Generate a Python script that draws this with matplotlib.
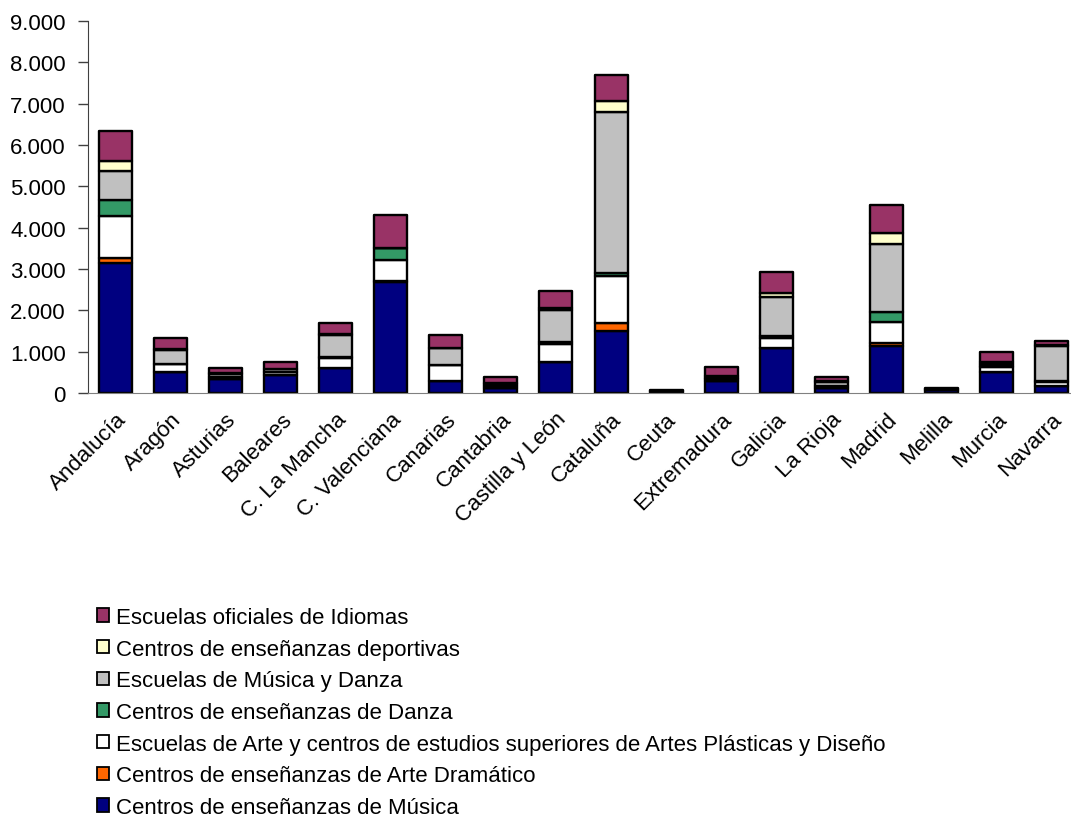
import matplotlib
matplotlib.use('Agg')
import matplotlib.pyplot as plt
import matplotlib.ticker as ticker
import numpy as np

plt.rcParams['font.family'] = ['Liberation Sans', 'DejaVu Sans']

regions = ['Andalucía', 'Aragón', 'Asturias', 'Baleares', 'C. La Mancha', 'C. Valenciana',
           'Canarias', 'Cantabria', 'Castilla y León', 'Cataluña', 'Ceuta', 'Extremadura',
           'Galicia', 'La Rioja', 'Madrid', 'Melilla', 'Murcia', 'Navarra']

# stacking order, bottom to top
musica      = [3150, 500, 350, 430, 600, 2680, 290, 120, 760, 1500, 40, 280, 1100, 110, 1130, 70, 510, 180]
dramatico   = [120, 0, 0, 0, 0, 30, 0, 0, 0, 200, 0, 0, 0, 0, 80, 0, 10, 0]
arte        = [1020, 190, 40, 90, 250, 510, 380, 50, 420, 1130, 15, 60, 230, 50, 500, 20, 100, 90]
danza       = [380, 10, 0, 0, 30, 290, 10, 10, 50, 80, 0, 0, 40, 20, 240, 10, 30, 20]
musica_danza = [710, 330, 70, 60, 530, 0, 400, 40, 790, 3900, 0, 30, 960, 80, 1650, 0, 60, 840]
deportivas  = [240, 40, 20, 10, 10, 0, 10, 30, 40, 250, 5, 30, 80, 20, 280, 0, 50, 30]
idiomas     = [730, 270, 130, 170, 270, 800, 320, 130, 400, 640, 10, 240, 510, 100, 670, 20, 230, 100]

series = [
    ('Centros de enseñanzas de Música', musica, '#000080'),
    ('Centros de enseñanzas de Arte Dramático', dramatico, '#FF6600'),
    ('Escuelas de Arte y centros de estudios superiores de Artes Plásticas y Diseño', arte, '#FFFFFF'),
    ('Centros de enseñanzas de Danza', danza, '#339966'),
    ('Escuelas de Música y Danza', musica_danza, '#C0C0C0'),
    ('Centros de enseñanzas deportivas', deportivas, '#FFFFCC'),
    ('Escuelas oficiales de Idiomas', idiomas, '#993366'),
]

W, H = 1071, 820
fs = 16
fig = plt.figure(figsize=(W / 100, H / 100), dpi=100)
ax = fig.add_axes([88 / W, 1 - 394 / H, (1079 - 88) / W, (394 - 22) / H])

x = np.arange(len(regions))
bottom = np.zeros(len(regions))
handles = []
for name, vals, col in series:
    b = ax.bar(x, vals, 0.6, bottom=bottom, color=col, edgecolor='black', linewidth=1.7,
               joinstyle='round', label=name)
    handles.append(b)
    bottom += np.array(vals)

ax.set_xlim(-0.5, len(regions) - 0.5)
ax.set_ylim(0, 9000)
ax.yaxis.set_major_locator(ticker.MultipleLocator(1000))
ax.yaxis.set_major_formatter(ticker.FuncFormatter(lambda v, p: '{:,.0f}'.format(v).replace(',', '.')))

for s in ['top', 'right']:
    ax.spines[s].set_visible(False)
ax.spines['left'].set_color('#404040')
ax.spines['bottom'].set_color('#808080')
ax.tick_params(axis='y', length=7, width=1, color='#404040', labelsize=fs, pad=9)
ax.tick_params(axis='x', length=0, pad=11)
ax.set_xticks(x)
ax.set_xticklabels(regions, rotation=45, ha='right', rotation_mode='anchor', fontsize=fs)

leg = fig.legend(handles[::-1], [s[0] for s in series][::-1], loc='upper left',
                 bbox_to_anchor=(88 / W, 1 - 599 / H), frameon=False, fontsize=fs,
                 handlelength=0.55, handleheight=0.55, handletextpad=0.3,
                 labelspacing=0.48, borderaxespad=0)
for p in leg.get_patches():
    p.set_linewidth(1.3)

fig.savefig('out.png', dpi=100)
